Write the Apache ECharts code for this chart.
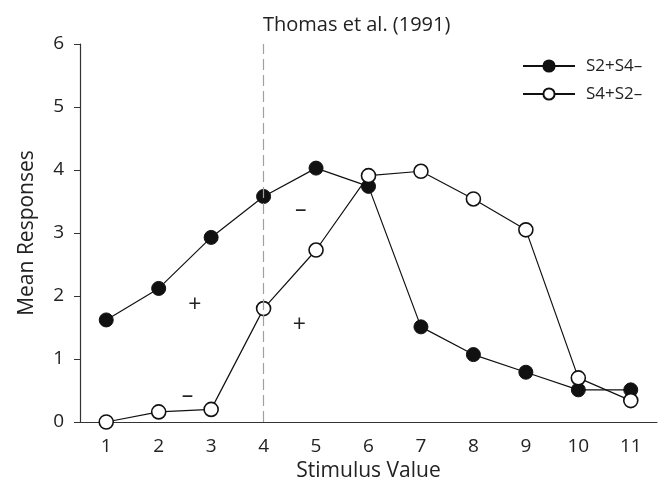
<!DOCTYPE html>
<html><head><meta charset="utf-8">
<script src="https://cdn.jsdelivr.net/npm/echarts@6/dist/echarts.min.js"></script>
<style>html,body{margin:0;padding:0;background:#fff}#c{width:661px;height:493px}</style>
</head><body><div id="c"></div>
<script>
var categories = ['1','2','3','4','5','6','7','8','9','10','11'];
var s2s4 = [1.62, 2.12, 2.93, 3.58, 4.03, 3.74, 1.51, 1.07, 0.79, 0.51, 0.51];
var s4s2 = [0.00, 0.16, 0.20, 1.80, 2.73, 3.91, 3.98, 3.54, 3.05, 0.70, 0.34];
var seriesNames = ['S2+S4\u2013', 'S4+S2\u2013'];
var yTicks = [0, 1, 2, 3, 4, 5, 6];
var dashedAt = '4';
// annotation signs: [category index (fractional), value, text]
var signs = [[1.69, 1.85, '+'], [3.68, 1.54, '+'], [3.71, 3.36, '\u2013'], [1.55, 0.40, '\u2013']];

var FONT = '"Open Sans", sans-serif';
var chart = echarts.init(document.getElementById('c'));
chart.setOption({
  animation: false,
  backgroundColor: '#fff',
  title: {
    text: 'Thomas et al. (1991)', left: 258, top: 10,
    textStyle: {fontFamily: FONT, fontSize: 20, fontWeight: 'normal', color: '#222'}
  },
  legend: {
    orient: 'vertical', left: 517, top: 52, itemWidth: 52, itemHeight: 14, itemGap: 10,
    textStyle: {fontFamily: FONT, fontSize: 17, lineHeight: 18, color: '#222', padding: [0, 0, 0, 6]},
    data: seriesNames
  },
  grid: {left: 80, right: 4, top: 44, bottom: 71, containLabel: false},
  xAxis: {
    type: 'category', data: categories, boundaryGap: true,
    name: 'Stimulus Value', nameLocation: 'middle', nameGap: 38,
    nameTextStyle: {fontFamily: FONT, fontSize: 21, color: '#222'},
    axisLine: {lineStyle: {color: '#333', width: 1.2}},
    axisTick: {alignWithLabel: true, length: 6, lineStyle: {color: '#333'}},
    axisLabel: {fontFamily: FONT, fontSize: 19, color: '#222', margin: 15},
    splitLine: {show: false}
  },
  yAxis: {
    type: 'value', min: yTicks[0], max: yTicks[yTicks.length - 1], interval: 1,
    name: 'Mean Responses', nameLocation: 'middle', nameGap: 42,
    nameTextStyle: {fontFamily: FONT, fontSize: 21, color: '#222'},
    axisLine: {show: true, lineStyle: {color: '#333', width: 1.2}},
    axisTick: {show: true, length: 6, lineStyle: {color: '#333'}},
    axisLabel: {fontFamily: FONT, fontSize: 19, color: '#222', margin: 16},
    splitLine: {show: false}
  },
  series: [
    {
      name: seriesNames[0], type: 'line', data: s2s4, symbol: 'circle', symbolSize: 14,
      lineStyle: {color: '#111', width: 1.2}, itemStyle: {color: '#111', borderColor: '#111', borderWidth: 1},
      z: 3,
      markLine: {
        silent: true, symbol: 'none', label: {show: false},
        lineStyle: {color: '#a0a0a0', type: [11, 5], width: 1.2},
        data: [{xAxis: dashedAt}]
      }
    },
    {
      name: seriesNames[1], type: 'line', data: s4s2, symbol: 'circle', symbolSize: 14,
      lineStyle: {color: '#111', width: 1.2}, itemStyle: {color: '#fff', borderColor: '#111', borderWidth: 1.6},
      z: 4
    }
  ]
});
var g = signs.map(function (s) {
  var i0 = Math.floor(s[0]);
  var a = chart.convertToPixel({gridIndex: 0}, [i0, s[1]]);
  var b = chart.convertToPixel({gridIndex: 0}, [i0 + 1, s[1]]);
  var x = a[0] + (s[0] - i0) * (b[0] - a[0]);
  return {type: 'text', x: x, y: a[1], z: 10,
    style: {text: s[2], fontFamily: FONT, fontSize: 23, fill: '#222', align: 'center', verticalAlign: 'middle'}};
});
chart.setOption({graphic: g});
</script></body></html>
